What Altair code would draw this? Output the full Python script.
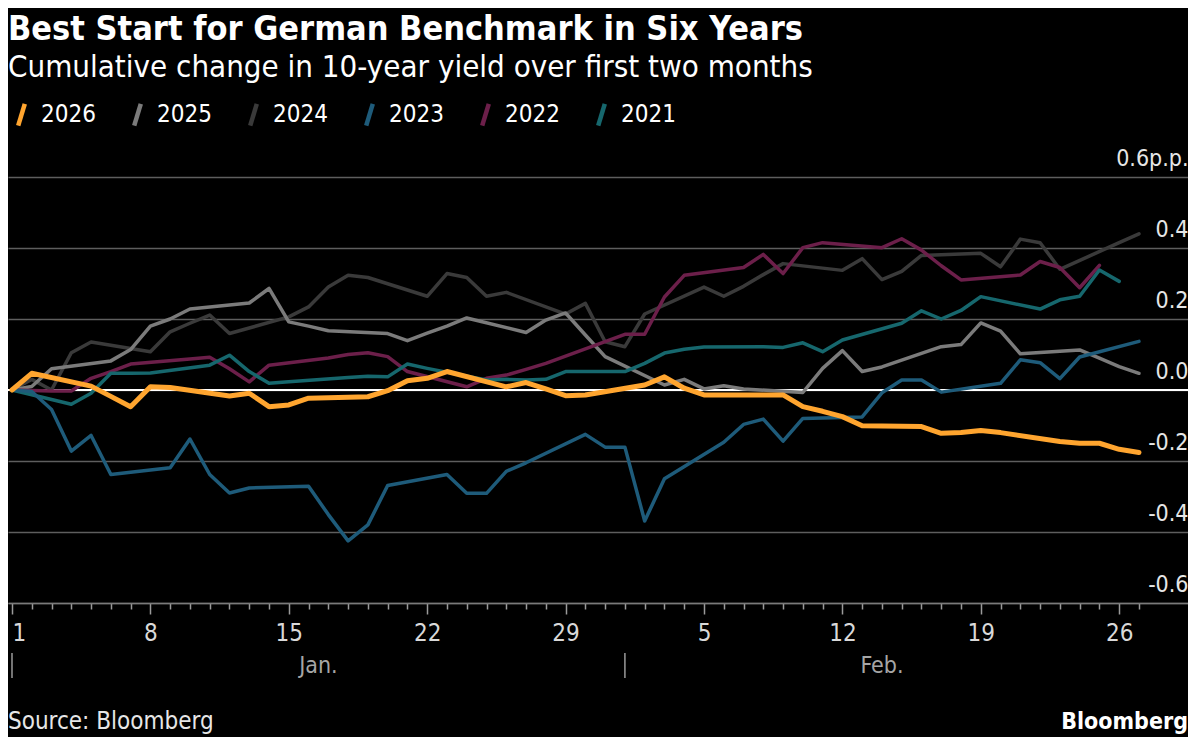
import altair as alt
import pandas as pd

FONT = "DejaVu Sans Condensed, DejaVu Sans, sans-serif"

title_text = "Best Start for German Benchmark in Six Years"
subtitle_text = "Cumulative change in 10-year yield over first two months"
source_text = "Source: Bloomberg"
brand_text = "Bloomberg"

years = ["2026", "2025", "2024", "2023", "2022", "2021"]
colors = ["#ffa52f", "#7b7b7b", "#3a3a3a", "#1e5b7a", "#6c1f4a", "#16676d"]
line_widths = {"2026": 5, "2025": 3.5, "2024": 3.5, "2023": 3.5, "2022": 3.5, "2021": 3.5}
draw_order = ["2024", "2025", "2022", "2021", "2023", "2026"]

# day index: 1 = Jan 1, 32 = Feb 1
days_2026 = [1, 2, 5, 6, 7, 8, 9, 12, 13, 14, 15, 16, 19, 20, 21, 22, 23, 26, 27, 28, 29, 30,
             33, 34, 35, 36, 37, 40, 41, 42, 43, 44, 47, 48, 49, 50, 51, 54, 55, 56, 57, 58]
vals_2026 = [0, 0.047, 0.011, -0.018, -0.047, 0.009, 0.007, -0.017, -0.009, -0.047, -0.042, -0.023,
             -0.019, -0.002, 0.026, 0.033, 0.052, 0.009, 0.021, 0.003, -0.016, -0.014,
             0.014, 0.037, 0.005, -0.014, -0.014, -0.014, -0.047, -0.06, -0.075, -0.101,
             -0.103, -0.122, -0.12, -0.114, -0.12, -0.145, -0.15, -0.15, -0.167, -0.176]

days_2025 = [1, 2, 3, 6, 7, 8, 9, 10, 13, 14, 15, 16, 17, 20, 21, 22, 23, 24, 27, 28, 29, 30, 31,
             34, 35, 36, 37, 38, 41, 42, 43, 44, 45, 48, 49, 50, 51, 52, 55, 56, 57, 58]
vals_2025 = [0, 0.01, 0.06, 0.082, 0.114, 0.18, 0.2, 0.228, 0.245, 0.286, 0.192, 0.18, 0.167,
             0.159, 0.139, 0.16, 0.18, 0.203, 0.162, 0.197, 0.217, 0.155, 0.094,
             0.014, 0.03, 0.003, 0.012, 0.003, -0.007, 0.061, 0.111, 0.052, 0.065,
             0.122, 0.128, 0.189, 0.166, 0.102, 0.113, 0.09, 0.066, 0.047]

days_2024 = [1, 2, 3, 4, 5, 8, 9, 10, 11, 12, 15, 16, 17, 18, 19, 22, 23, 24, 25, 26, 29, 30, 31,
             32, 33, 36, 37, 38, 39, 40, 43, 44, 45, 46, 47, 50, 51, 52, 53, 54, 57, 58]
vals_2024 = [0, 0.03, 0.0, 0.105, 0.135, 0.108, 0.164, 0.188, 0.211, 0.159, 0.206, 0.234, 0.29,
             0.323, 0.317, 0.264, 0.328, 0.317, 0.264, 0.275, 0.214, 0.244, 0.136,
             0.122, 0.214, 0.29, 0.264, 0.292, 0.325, 0.356, 0.337, 0.37, 0.311, 0.334, 0.379,
             0.385, 0.347, 0.425, 0.415, 0.34, 0.415, 0.44]

days_2023 = [1, 2, 3, 4, 5, 6, 9, 10, 11, 12, 13, 16, 17, 18, 19, 20, 23, 24, 25, 26, 27, 30, 31,
             32, 33, 34, 37, 38, 39, 40, 41, 44, 45, 46, 47, 48, 51, 52, 53, 54, 55, 58]
vals_2023 = [0, -0.004, -0.055, -0.172, -0.128, -0.238, -0.219, -0.138, -0.238, -0.29, -0.276,
             -0.271, -0.351, -0.425, -0.38, -0.269, -0.238, -0.291, -0.291, -0.229, -0.205,
             -0.125, -0.161, -0.161, -0.369, -0.25, -0.147, -0.097, -0.082, -0.144, -0.08,
             -0.076, -0.008, 0.028, 0.028, -0.006, 0.019, 0.085, 0.077, 0.032, 0.093, 0.137]

days_2022 = [1, 3, 4, 5, 6, 7, 10, 11, 12, 13, 14, 17, 18, 19, 20, 21, 24, 25, 26, 27, 28,
             31, 32, 33, 34, 35, 38, 39, 40, 41, 42, 45, 46, 47, 48, 49, 52, 53, 54, 55, 56]
vals_2022 = [0, -0.003, -0.003, 0.033, 0.052, 0.073, 0.087, 0.092, 0.06, 0.023, 0.07,
             0.09, 0.1, 0.105, 0.094, 0.052, 0.009, 0.033, 0.042, 0.058, 0.075,
             0.136, 0.157, 0.157, 0.262, 0.323, 0.345, 0.382, 0.328, 0.401, 0.415,
             0.401, 0.426, 0.394, 0.35, 0.31, 0.324, 0.362, 0.345, 0.288, 0.351]

days_2021 = [1, 4, 5, 6, 7, 8, 11, 12, 13, 14, 15, 18, 19, 20, 21, 22, 25, 26, 27, 28, 29,
             32, 33, 34, 35, 36, 39, 40, 41, 42, 43, 46, 47, 48, 49, 50, 53, 54, 55, 56, 57]
vals_2021 = [0, -0.04, -0.009, 0.047, 0.047, 0.048, 0.07, 0.098, 0.052, 0.019, 0.023,
             0.035, 0.039, 0.037, 0.073, 0.061, 0.028, 0.03, 0.028, 0.03, 0.052,
             0.052, 0.075, 0.104, 0.115, 0.121, 0.122, 0.12, 0.133, 0.108, 0.141,
             0.188, 0.223, 0.2, 0.224, 0.263, 0.228, 0.254, 0.264, 0.338, 0.306]

series = {
    "2026": (days_2026, vals_2026),
    "2025": (days_2025, vals_2025),
    "2024": (days_2024, vals_2024),
    "2023": (days_2023, vals_2023),
    "2022": (days_2022, vals_2022),
    "2021": (days_2021, vals_2021),
}

tick_days = [1, 8, 15, 22, 29, 36, 43, 50, 57]
tick_labels = ["1", "8", "15", "22", "29", "5", "12", "19", "26"]
all_days = list(range(1, 59))
month_names = ["Jan.", "Feb."]
month_start = [1, 32]
month_mid = [16.5, 45.0]
y_ticks = [-0.6, -0.4, -0.2, 0.0, 0.2, 0.4, 0.6]

W, H = 1180, 426

days_js = "[" + ",".join(str(d) for d in tick_days) + "]"
labs_js = "[" + ",".join("'" + s + "'" for s in tick_labels) + "]"
x_label_expr = f"indexof({days_js}, datum.value) >= 0 ? {labs_js}[indexof({days_js}, datum.value)] : ''"

x_axis = alt.Axis(
    values=all_days, title=None, grid=False,
    domain=True, domainColor="#7a7a7a", domainWidth=1.5,
    ticks=True, tickColor="#9a9a9a", tickWidth=1.5,
    tickSize={"condition": {"test": f"indexof({days_js}, datum.value) >= 0", "value": 11}, "value": 6},
    labelExpr=x_label_expr, labelOverlap=False, labelFlush=False,
    labelAlign={"condition": {"test": "datum.value == 1", "value": "left"}, "value": "center"},
    labelFont=FONT, labelFontSize=24, labelColor="#d9d9d9", labelPadding=7,
    labelBaseline="top",
)
y_axis = alt.Axis(
    orient="right", values=y_ticks, title=None,
    labelExpr="datum.value > 0.59 ? '0.6p.p.' : replace(format(datum.value, '.1f'), '\u2212', '-')",
    grid=True, gridColor="#5e5e5e", gridWidth=1.5,
    domain=False, ticks=False, tickSize=0,
    labelAlign="right", labelBaseline="alphabetic", labelOffset=-12, labelPadding=0,
    labelFont=FONT, labelFontSize=23, labelColor="#e6e6e6",
)

x_scale = alt.Scale(domain=[0.798, 60.48], nice=False, zero=False)
y_scale = alt.Scale(domain=[-0.6, 0.6], nice=False, zero=False)

color = alt.Color(
    "year:N",
    scale=alt.Scale(domain=years, range=colors),
    legend=alt.Legend(
        title=None, orient="none", legendX=0, legendY=-76, direction="horizontal",
        symbolType="M-0.3,1L0.3,-1", symbolSize=480, symbolStrokeWidth=4.5,
        labelFont=FONT, labelFontSize=24, labelColor="#ffffff", labelOffset=6,
        columnPadding=28, padding=0,
    ),
)

layers = []
for yr in draw_order:
    d, v = series[yr]
    df = pd.DataFrame({"day": d, "value": v, "year": yr})
    layers.append(
        alt.Chart(df).mark_line(strokeWidth=line_widths[yr], strokeJoin="round", strokeCap="round").encode(
            x=alt.X("day:Q", scale=x_scale, axis=x_axis),
            y=alt.Y("value:Q", scale=y_scale, axis=y_axis),
            color=color,
        )
    )

zero_rule = alt.Chart(pd.DataFrame({"value": [0.0]})).mark_rule(color="#ffffff", strokeWidth=2).encode(
    y=alt.Y("value:Q", scale=y_scale, axis=y_axis)
)

month_df = pd.DataFrame({"day": month_start, "mid": month_mid, "name": month_names})
month_rules = alt.Chart(month_df).mark_rule(color="#9a9a9a", strokeWidth=1.5).encode(
    x=alt.X("day:Q", scale=x_scale, axis=x_axis),
    y=alt.value(H + 50), y2=alt.value(H + 75),
)
month_text = alt.Chart(month_df).mark_text(
    font=FONT, fontSize=23, color="#a6a6a6", align="center", baseline="alphabetic"
).encode(
    x=alt.X("mid:Q", scale=x_scale, axis=x_axis),
    y=alt.value(H + 70),
    text="name:N",
)

def label(txt, x, y, size, bold=False, align="left", col="#ffffff"):
    return alt.Chart(pd.DataFrame({"t": [txt]})).mark_text(
        font=FONT, fontSize=size, fontWeight="bold" if bold else "normal",
        color=col, align=align, baseline="alphabetic",
    ).encode(text="t:N", x=alt.value(x), y=alt.value(y))

title = label(title_text, 0, -137, 34, bold=True)
subtitle = label(subtitle_text, 0, -100, 31)
source = label(source_text, 0, H + 126, 24, col="#e6e6e6")
brand = label(brand_text, W, H + 126, 23, bold=True, align="right")

chart = alt.layer(
    zero_rule, *layers, month_rules, month_text, title, subtitle, source, brand
).properties(
    width=W, height=H,
    autosize=alt.AutoSizeParams(type="none"),
    padding={"left": 0, "top": 169, "right": 0, "bottom": 134},
).configure(
    background="#000000", font=FONT,
).configure_view(stroke=None)

chart.save("out.html", embed_options={"renderer": "svg", "actions": False})
